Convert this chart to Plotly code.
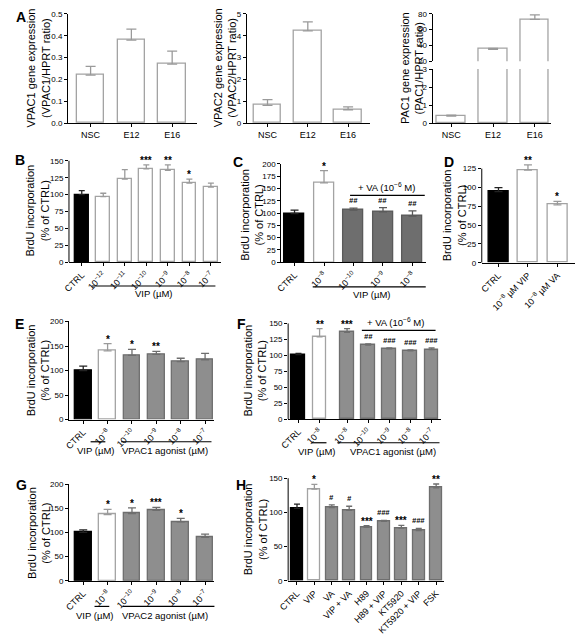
import plotly.graph_objects as go

# ---------------- data ----------------
a_categories = ["NSC", "E12", "E16"]
vpac1_values = [0.22, 0.38, 0.27]
vpac1_errors = [0.04, 0.05, 0.06]
vpac2_values = [0.82, 4.22, 0.62]
vpac2_errors = [0.26, 0.41, 0.13]
pac1_values = [0.40, 35.0, 73.0]
pac1_errors = [0.05, 1.2, 5.8]

b_labels = ["CTRL", "10<sup>−12</sup>", "10<sup>−11</sup>", "10<sup>−10</sup>",
            "10<sup>−9</sup>", "10<sup>−8</sup>", "10<sup>−7</sup>"]
b_values = [100, 97, 123, 138, 136, 117, 111]
b_errors = [6, 5, 14, 6, 8, 6, 6]
b_sig = ["", "", "", "***", "**", "*", ""]
b_kinds = ["ctrl", "white", "white", "white", "white", "white", "white"]

c_labels = ["CTRL", "10<sup>−8</sup>", "10<sup>−10</sup>", "10<sup>−9</sup>", "10<sup>−8</sup>"]
c_values = [99, 161, 106, 102.5, 94]
c_errors = [7, 25, 4, 8.5, 10.5]
c_sig = ["", "*", "##", "##", "##"]
c_kinds = ["ctrl", "white", "dark", "dark", "dark"]

d_labels = ["CTRL", "10<sup>−8</sup> µM VIP", "10<sup>−8</sup> µM VA"]
d_values = [94.6, 123, 77]
d_errors = [5.2, 7, 4.6]
d_sig = ["", "**", "*"]
d_kinds = ["ctrl", "white", "white"]

e_labels = ["CTRL", "10<sup>−8</sup>", "10<sup>−10</sup>", "10<sup>−9</sup>",
            "10<sup>−8</sup>", "10<sup>−7</sup>"]
e_values = [100, 140, 131, 133, 118, 122]
e_errors = [9, 15, 12, 6, 7, 13]
e_sig = ["", "*", "*", "**", "", ""]
e_kinds = ["ctrl", "white", "gray", "gray", "gray", "gray"]

f_labels = ["CTRL", "10<sup>−8</sup>", "10<sup>−8</sup>", "10<sup>−10</sup>",
            "10<sup>−9</sup>", "10<sup>−8</sup>", "10<sup>−7</sup>"]
f_values = [101, 129, 136, 116, 110, 107, 109]
f_errors = [2, 13, 6, 2, 1.5, 1.5, 2.5]
f_sig = ["", "**", "***", "##", "###", "###", "###"]
f_kinds = ["ctrl", "white", "gray", "gray", "gray", "gray", "gray"]

g_labels = ["CTRL", "10<sup>−8</sup>", "10<sup>−10</sup>", "10<sup>−9</sup>",
            "10<sup>−8</sup>", "10<sup>−7</sup>"]
g_values = [100, 137, 139, 146, 122, 90]
g_errors = [5.5, 11, 12, 6, 7, 6.5]
g_sig = ["", "*", "*", "***", "*", ""]
g_kinds = ["ctrl", "white", "gray", "gray", "gray", "gray"]

h_labels = ["CTRL", "VIP", "VA", "VIP + VA", "H89", "H89 + VIP", "KT5920",
            "KT5920 + VIP", "FSK"]
h_values = [106, 134, 107, 103, 78, 87, 77, 73.5, 136]
h_errors = [6, 7, 4, 6, 2.7, 1.5, 4, 3, 5.6]
h_sig = ["", "*", "#", "#", "***", "###", "***", "###", "**"]
h_kinds = ["ctrl", "white", "gray", "gray", "gray", "gray", "gray", "gray", "gray"]

# ---------------- styling ----------------
W, H = 583, 641
FONT = "Arial, 'Liberation Sans', sans-serif"
STYLE = {
    "ctrl": dict(fill="#000000", line="#000000", err="#222222"),
    "white": dict(fill="#ffffff", line="#a3a3a3", err="#9a9a9a"),
    "dark": dict(fill="#6e6e6e", line="#5a5a5a", err="#5a5a5a"),
    "gray": dict(fill="#8e8e8e", line="#6e6e6e", err="#6e6e6e"),
}

fig = go.Figure()
layout = {}
annotations = []
shapes = []
counter = [0]


def new_axes(x0, x1, ytop, ybot, c0, unit, yrange, ytickvals, xtickvals=None,
             xticktext=None, tickangle=0, ytickformat=None, show_x=True,
             xfont=9, extend=None):
    counter[0] += 1
    n = counter[0]
    xn = "x" if n == 1 else f"x{n}"
    yn = "y" if n == 1 else f"y{n}"
    xr = [-(c0 - x0) / unit, (x1 - c0) / unit]
    xa = dict(domain=[x0 / W, x1 / W], anchor=yn, range=xr, showgrid=False,
              zeroline=False, fixedrange=True)
    if show_x:
        xa.update(showline=True, linecolor="black", linewidth=1,
                  ticks="outside", ticklen=3, tickwidth=1, tickcolor="black",
                  tickvals=xtickvals, ticktext=xticktext, tickangle=tickangle,
                  tickfont=dict(size=xfont, color="black", family=FONT))
    else:
        xa.update(visible=False)
    rng = list(yrange)
    top_px = ytop
    showline = True
    if extend is not None:
        # axis range extends above the last tick so marks are not clipped;
        # the axis line itself stops at the last tick
        rng[1] = extend
        scale = (ybot - ytop) / (yrange[1] - yrange[0])
        top_px = ybot - (extend - yrange[0]) * scale
        showline = False
        shapes.append(dict(type="line", xref="paper", yref=yn, x0=x0 / W,
                           x1=x0 / W, y0=yrange[0], y1=yrange[1],
                           line=dict(color="black", width=1)))
    ya = dict(domain=[1 - ybot / H, 1 - top_px / H], anchor=xn, range=rng,
              showgrid=False, zeroline=False, showline=showline,
              linecolor="black", linewidth=1, ticks="outside", ticklen=3,
              tickwidth=1, tickcolor="black", tickvals=ytickvals,
              tickfont=dict(size=8, color="black", family=FONT), fixedrange=True)
    if ytickformat:
        ya["tickformat"] = ytickformat
    layout["xaxis" if n == 1 else f"xaxis{n}"] = xa
    layout["yaxis" if n == 1 else f"yaxis{n}"] = ya
    return xn, yn


def add_bars(xn, yn, pos, vals, errs, kinds, width, capw=3):
    for kind in ["ctrl", "white", "dark", "gray"]:
        idx = [i for i, k in enumerate(kinds) if k == kind]
        if not idx:
            continue
        st = STYLE[kind]
        fig.add_trace(go.Bar(
            x=[pos[i] for i in idx], y=[vals[i] for i in idx], width=width,
            marker=dict(color=st["fill"], line=dict(color=st["line"], width=1.3)),
            error_y=dict(type="data", array=[errs[i] for i in idx],
                         arrayminus=[0] * len(idx), symmetric=False,
                         color=st["err"], thickness=1.3, width=capw),
            xaxis=xn, yaxis=yn, showlegend=False, hoverinfo="skip"))


def add_sig(xn, yn, pos, vals, errs, sig):
    for p, v, e, s in zip(pos, vals, errs, sig):
        if not s:
            continue
        if "#" in s:
            txt, size, shift = f"<b><i>{s}</i></b>", 7.5, 1
        else:
            txt, size, shift = f"<b>{s}</b>", 10, -3
        annotations.append(dict(x=p, y=v + e, xref=xn, yref=yn, text=txt,
                                showarrow=False, yanchor="bottom", yshift=shift,
                                font=dict(size=size, color="black", family=FONT)))


def ytitle(cx, cy, text, size=11):
    annotations.append(dict(x=cx / W, y=1 - cy / H, xref="paper", yref="paper",
                            text=text, textangle=-90, showarrow=False,
                            xanchor="center", yanchor="middle",
                            font=dict(size=size, color="black", family=FONT)))


def letter(cx, cy, text):
    annotations.append(dict(x=cx / W, y=1 - cy / H, xref="paper", yref="paper",
                            text=f"<b>{text}</b>", showarrow=False,
                            xanchor="center", yanchor="middle",
                            font=dict(size=14, color="black", family=FONT)))


def label(cx, cy, text, size=9.5):
    annotations.append(dict(x=cx / W, y=1 - cy / H, xref="paper", yref="paper",
                            text=text, showarrow=False, xanchor="center",
                            yanchor="middle",
                            font=dict(size=size, color="black", family=FONT)))


def hline(xa, xb, y):
    shapes.append(dict(type="line", xref="paper", yref="paper", x0=xa / W,
                       x1=xb / W, y0=1 - y / H, y1=1 - y / H,
                       line=dict(color="black", width=1.2)))


BRDU = "BrdU incorporation<br>(% of CTRL)"

# ---------------- panel A ----------------
pos3 = list(range(len(a_categories)))
xn, yn = new_axes(59, 190, 10, 121, 82, 41.5, [0, 0.5],
                  [0, 0.1, 0.2, 0.3, 0.4, 0.5], pos3, a_categories,
                  ytickformat=".1f")
add_bars(xn, yn, pos3, vpac1_values, vpac1_errors, ["white"] * 3, 28 / 41.5, 5)
ytitle(29, 65, "VPAC1 gene expression<br>(VPAC1/HPRT ratio)")

xn, yn = new_axes(241, 366, 10, 121, 262, 41, [0, 5], [0, 1, 2, 3, 4, 5],
                  pos3, a_categories)
add_bars(xn, yn, pos3, vpac2_values, vpac2_errors, ["white"] * 3, 28 / 41, 5)
ytitle(219, 65, "VPAC2 gene expression<br>(VPAC2/HPRT ratio)")

xn, yn = new_axes(430, 550, 66, 121, 449, 42.5, [0, 3], [0, 1, 2, 3],
                  pos3, a_categories)
add_bars(xn, yn, pos3, pac1_values, pac1_errors, ["white"] * 3, 29 / 42.5, 5)
xn, yn = new_axes(430, 550, 10, 58, 449, 42.5, [20, 80], [20, 40, 60, 80],
                  show_x=False)
add_bars(xn, yn, pos3, pac1_values, pac1_errors, ["white"] * 3, 29 / 42.5, 5)
ytitle(409, 65, "PAC1 gene expression<br>(PAC1/HPRT ratio)")
letter(11, 13, "A")

# ---------------- panel B ----------------
pos = list(range(len(b_values)))
xn, yn = new_axes(60, 215, 159, 262, 73, 21.9, [0, 150],
                  [0, 25, 50, 75, 100, 125, 150], pos, b_labels, -45, extend=160)
add_bars(xn, yn, pos, b_values, b_errors, b_kinds, 14 / 21.9)
add_sig(xn, yn, pos, b_values, b_errors, b_sig)
ytitle(28, 210, BRDU)
letter(10, 158, "B")
hline(83, 209, 286)
label(147, 294, "VIP (µM)")

# ---------------- panel C ----------------
pos = list(range(len(c_values)))
xn, yn = new_axes(276, 423, 162, 262, 289.5, 30, [0, 200],
                  [0, 25, 50, 75, 100, 125, 150, 175, 200], pos, c_labels, -45)
add_bars(xn, yn, pos, c_values, c_errors, c_kinds, 20 / 30, 4)
add_sig(xn, yn, pos, c_values, c_errors, c_sig)
ytitle(246, 214, BRDU)
letter(232, 160, "C")
hline(346, 422, 194)
label(383, 186, "+ VA (10<sup>−6</sup> M)")
hline(308, 423, 287)
label(368, 295, "VIP (µM)")

# ---------------- panel D ----------------
pos = list(range(len(d_values)))
xn, yn = new_axes(480, 575, 167, 262.5, 497, 30, [0, 125],
                  [0, 25, 50, 75, 100, 125], pos, d_labels, -45, extend=140)
add_bars(xn, yn, pos, d_values, d_errors, d_kinds, 20 / 30, 4)
add_sig(xn, yn, pos, d_values, d_errors, d_sig)
ytitle(452, 214, BRDU)
letter(447, 160, "D")

# ---------------- panel E ----------------
pos = list(range(len(e_values)))
xn, yn = new_axes(60, 208, 322, 421.5, 74.5, 24.8, [0, 200],
                  [0, 50, 100, 150, 200], pos, e_labels, -45)
add_bars(xn, yn, pos, e_values, e_errors, e_kinds, 17 / 24.8, 4)
add_sig(xn, yn, pos, e_values, e_errors, e_sig)
ytitle(28, 372, BRDU)
letter(10, 325, "E")
hline(82, 97, 444)
hline(113, 205, 444)
label(88, 453, "VIP (µM)")
label(158, 453, "VPAC1 agonist (µM)")

# ---------------- panel F ----------------
pos = [0, 1] + [i + 0.3 for i in range(2, len(f_values))]
xn, yn = new_axes(283, 439, 324, 421, 293.5, 21.5, [0, 150],
                  [0, 25, 50, 75, 100, 125, 150], pos, f_labels, -45, extend=165)
add_bars(xn, yn, pos, f_values, f_errors, f_kinds, 14 / 21.5, 3)
add_sig(xn, yn, pos, f_values, f_errors, f_sig)
ytitle(249, 372, BRDU)
letter(236, 325, "F")
hline(358, 433, 331)
label(392, 323, "+ VA (10<sup>−6</sup> M)")
hline(307, 322, 445)
hline(333, 437, 445)
label(312, 454, "VIP (µM)")
label(390, 454, "VPAC1 agonist (µM)")

# ---------------- panel G ----------------
pos = list(range(len(g_values)))
xn, yn = new_axes(60, 208, 487, 585, 74.5, 24.8, [0, 200],
                  [0, 50, 100, 150, 200], pos, g_labels, -45)
add_bars(xn, yn, pos, g_values, g_errors, g_kinds, 17 / 24.8, 4)
add_sig(xn, yn, pos, g_values, g_errors, g_sig)
ytitle(30, 536, BRDU)
letter(12, 488, "G")
hline(86, 101, 611)
hline(115, 208, 611)
label(86, 620, "VIP (µM)")
label(158, 620, "VPAC2 agonist (µM)")

# ---------------- panel H ----------------
pos = list(range(len(h_values)))
xn, yn = new_axes(283, 442, 481, 585, 292, 17.7, [0, 150], [0, 50, 100, 150],
                  pos, h_labels, -45, extend=160)
add_bars(xn, yn, pos, h_values, h_errors, h_kinds, 12 / 17.7, 3)
add_sig(xn, yn, pos, h_values, h_errors, h_sig)
ytitle(249, 533, BRDU)
letter(235, 488, "H")

fig.update_layout(
    width=W, height=H, margin=dict(l=0, r=0, t=0, b=0),
    paper_bgcolor="white", plot_bgcolor="white", bargap=0,
    font=dict(family=FONT, color="black"),
    annotations=annotations, shapes=shapes, **layout)

fig.write_html("out.html", config={"displayModeBar": False},
               post_script="document.body.style.margin='0';")
